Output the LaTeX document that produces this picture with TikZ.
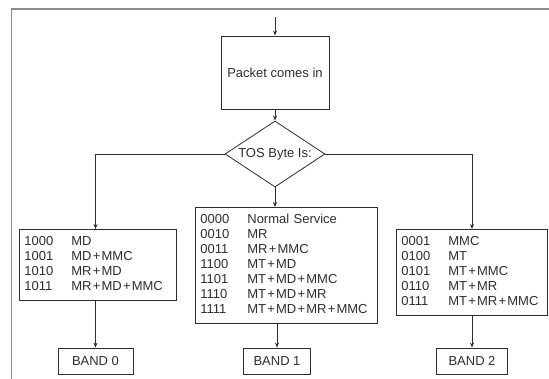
\documentclass[tikz,border=0pt]{standalone}
\usepackage{fontspec}
\setmainfont{Liberation Sans}
\usetikzlibrary{arrows.meta, shapes.geometric}
\definecolor{inkgray}{HTML}{2E2E2E}
\definecolor{framegray}{HTML}{8C8C8C}
\newcommand{\pl}{\kern1.2pt+\kern1.2pt}
\newcommand{\codefont}{\fontsize{13}{15}\selectfont}
\tikzset{
  flow/.style={draw=inkgray, line width=0.8pt, -{Stealth[length=5pt,width=4pt]}},
  stepbox/.style={draw=inkgray, line width=0.8pt, text=inkgray, font=\codefont},
  codebox/.style={stepbox, anchor=north west, align=left, text width=#1, inner xsep=5pt, inner ysep=5.5pt},
  bandbox/.style={stepbox, minimum height=26pt, minimum width=#1, inner sep=0pt},
  tosbox/.style={stepbox, diamond, aspect=1.5, minimum width=100pt, minimum height=66pt, inner sep=0pt}
}

\begin{document}
\begin{tikzpicture}[x=1pt, y=-1pt]
\useasboundingbox (0,0) rectangle (549,379);
% Frame
\draw[framegray, line width=1.5pt] (11.5,379) -- (11.5,9) -- (549,9);

% Entry and decision
\coordinate (entry) at (275,17);
\node[stepbox, minimum width=108pt, minimum height=73pt] (packet) at (275,72.5) {Packet comes in};
\node[tosbox] (tos) at (275,154) {TOS Byte Is:};

% Code groups
\node[codebox=147pt] (grpzero) at (19,229) {\begin{tabular}{@{}p{47pt}@{}l@{}}
1000 & MD\\
1001 & MD\pl MMC\\
1010 & MR\pl MD\\
1011 & MR\pl MD\pl MMC
\end{tabular}};
\node[codebox=172pt] (grpone) at (195,207) {\begin{tabular}{@{}p{47pt}@{}l@{}}
0000 & Normal Service\\
0010 & MR\\
0011 & MR\pl MMC\\
1100 & MT\pl MD\\
1101 & MT\pl MD\pl MMC\\
1110 & MT\pl MD\pl MR\\
1111 & MT\pl MD\pl MR\pl MMC
\end{tabular}};
\node[codebox=141pt] (grptwo) at (396,229) {\begin{tabular}{@{}p{47pt}@{}l@{}}
0001 & MMC\\
0100 & MT\\
0101 & MT\pl MMC\\
0110 & MT\pl MR\\
0111 & MT\pl MR\pl MMC
\end{tabular}};

% Bands
\node[bandbox=75pt] (bandzero) at (95.5,361) {BAND 0};
\node[bandbox=67pt] (bandone) at (277,361) {BAND 1};
\node[bandbox=71pt] (bandtwo) at (472,361) {BAND 2};

% Connectors
\draw[flow] (entry) -- (packet);
\draw[flow] (packet) -- (tos);
\draw[flow] (tos.west) -| (bandzero |- grpzero.north);
\draw[flow] (tos.south) -- (tos.south |- grpone.north);
\draw[flow] (tos.east) -| (bandtwo |- grptwo.north);
\draw[flow] (bandzero |- grpzero.south) -- (bandzero);
\draw[flow] (bandone |- grpone.south) -- (bandone);
\draw[flow] (bandtwo |- grptwo.south) -- (bandtwo);
\end{tikzpicture}
\end{document}
